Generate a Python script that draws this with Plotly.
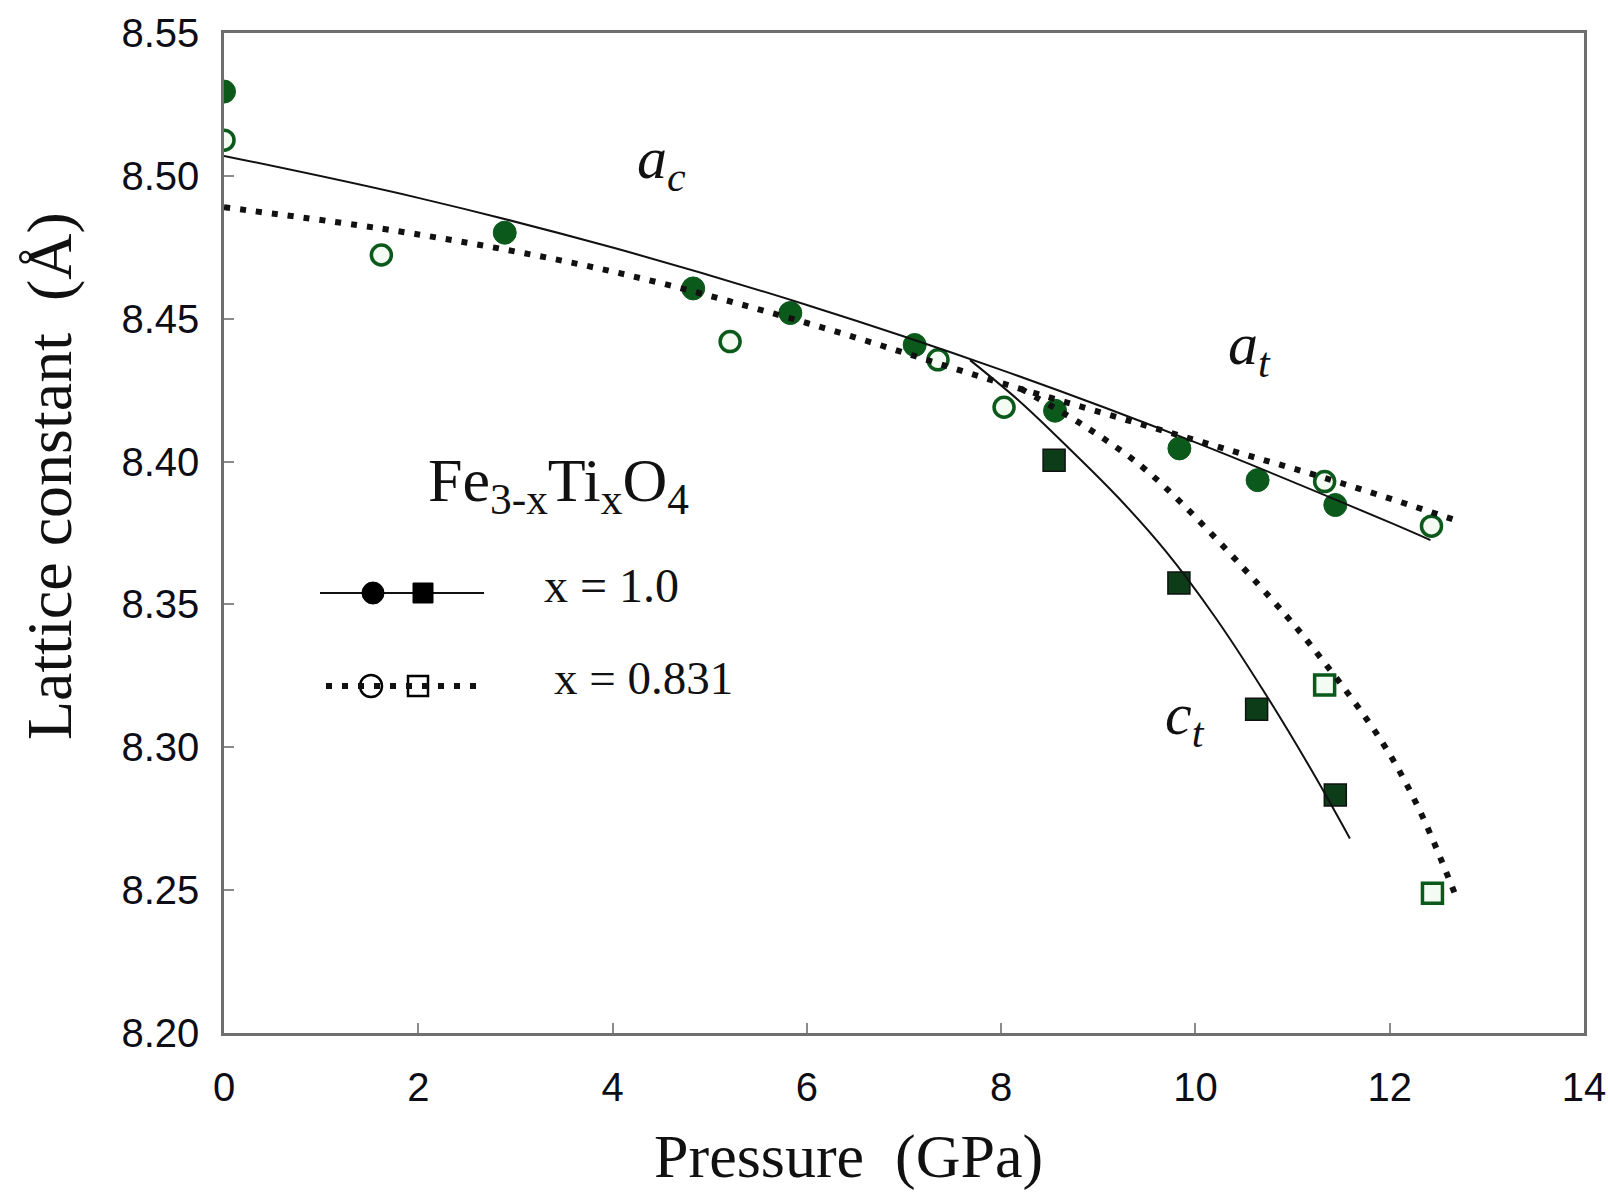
import plotly.graph_objects as go

# ---- data ----
# x = 1.0, cubic/tetragonal a (filled circles)
p_a_x10 = [0, 2.89, 4.83, 5.83, 7.11, 8.555, 9.835, 10.64, 11.44]
lat_a_x10 = [8.5295, 8.4801, 8.4606, 8.452, 8.4408, 8.4178, 8.4046, 8.3935, 8.3848]
# x = 1.0, tetragonal c (filled squares)
p_c_x10 = [8.545, 9.83, 10.63, 11.44]
lat_c_x10 = [8.4005, 8.3575, 8.3133, 8.2833]
# x = 0.831, a (open circles)
p_a_x0831 = [0, 1.62, 5.21, 7.35, 8.03, 11.33, 12.43]
lat_a_x0831 = [8.5125, 8.4723, 8.442, 8.4356, 8.419, 8.393, 8.3774]
# x = 0.831, c (open squares)
p_c_x0831 = [11.33, 12.44]
lat_c_x0831 = [8.3218, 8.2489]

# fitted curves
fit_a_x10_p = [0, 2, 4, 6, 8, 10, 12, 12.42]
fit_a_x10_v = [8.5070, 8.4923, 8.4749, 8.4548, 8.4321, 8.4067, 8.3787, 8.3725]
fit_c_x10_p = [7.68, 8.2, 8.7, 9.2, 9.7, 10.2, 10.7, 11.2, 11.59]
fit_c_x10_v = [8.4355, 8.4208, 8.4046, 8.3876, 8.3684, 8.3457, 8.3198, 8.2917, 8.2681]
fit_a_x0831_p = [0, 2, 4, 6, 8, 10, 11.5, 12.72]
fit_a_x0831_v = [8.4890, 8.4795, 8.4665, 8.4485, 8.4275, 8.4075, 8.3925, 8.3790]
fit_c_x0831_p = [8.2, 8.84, 9.53, 10.78, 11.32, 11.93, 12.3, 12.69]
fit_c_x0831_v = [8.4255, 8.4128, 8.3959, 8.3520, 8.3300, 8.3014, 8.2785, 8.2471]

x_ticks = [0, 2, 4, 6, 8, 10, 12, 14]
y_ticks = [8.20, 8.25, 8.30, 8.35, 8.40, 8.45, 8.50, 8.55]
y_ticklabels = ["8.20", "8.25", "8.30", "8.35", "8.40", "8.45", "8.50", "8.55"]

# ---- styles ----
W, H = 1608, 1194
L, R, T, B = 224, 24, 33, 161
GREEN = "#0b5a1c"
DKGREEN = "#0c3c18"
PALE = "#f3fbf3"
DOT = "6px,10px"
SERIF = "Liberation Serif, Times New Roman, serif"
SANS = "Liberation Sans, Arial, sans-serif"


def px(X):
    return (X - L) / (W - L - R)


def py(Y):
    return (H - B - Y) / (H - T - B)


fig = go.Figure()

# markers first (lines are drawn over them)
fig.add_trace(go.Scatter(x=p_a_x0831, y=lat_a_x0831, mode="markers",
                         marker=dict(symbol="circle", size=20, color=PALE,
                                     line=dict(color=GREEN, width=3.5)),
                         showlegend=False))
fig.add_trace(go.Scatter(x=p_c_x0831, y=lat_c_x0831, mode="markers",
                         marker=dict(symbol="square", size=20, color=PALE,
                                     line=dict(color=GREEN, width=3.5)),
                         showlegend=False))
fig.add_trace(go.Scatter(x=p_a_x10, y=lat_a_x10, mode="markers",
                         marker=dict(symbol="circle", size=23, color=GREEN,
                                     line=dict(color=GREEN, width=1)),
                         showlegend=False))
fig.add_trace(go.Scatter(x=p_c_x10, y=lat_c_x10, mode="markers",
                         marker=dict(symbol="square", size=22, color=DKGREEN,
                                     line=dict(color="#111111", width=1.5)),
                         showlegend=False))

# fitted curves
for xs, ys, dash, wd in [
    (fit_a_x10_p, fit_a_x10_v, "solid", 2),
    (fit_c_x10_p, fit_c_x10_v, "solid", 2),
    (fit_a_x0831_p, fit_a_x0831_v, DOT, 6),
    (fit_c_x0831_p, fit_c_x0831_v, DOT, 6),
]:
    fig.add_trace(go.Scatter(x=xs, y=ys, mode="lines",
                             line=dict(color="#111111", width=wd, dash=dash,
                                       shape="spline", smoothing=1.0),
                             showlegend=False))

annotations = [
    dict(text="<i>a<sub>c</sub></i>", x=px(661), y=py(162), font=dict(size=60, family=SERIF)),
    dict(text="<i>a<sub>t</sub></i>", x=px(1249), y=py(349), font=dict(size=60, family=SERIF)),
    dict(text="<i>c<sub>t</sub></i>", x=px(1185), y=py(718), font=dict(size=60, family=SERIF)),
    dict(text="Fe<sub>3-x</sub>Ti<sub>x</sub>O<sub>4</sub>", x=px(558), y=py(485),
         font=dict(size=62, family=SERIF)),
    dict(text="x = 1.0", x=px(542), y=py(586), xanchor="left", font=dict(size=48, family=SERIF)),
    dict(text="x = 0.831", x=px(552), y=py(678), xanchor="left", font=dict(size=47, family=SERIF)),
    dict(text="Lattice constant  (Å)", x=px(50), y=py(476), textangle=-90,
         font=dict(size=64, family=SERIF)),
    dict(text="Pressure  (GPa)", x=px(848), y=py(1156), font=dict(size=62, family=SERIF)),
]
for a in annotations:
    a.setdefault("xanchor", "center")
    a.update(xref="paper", yref="paper", yanchor="middle", showarrow=False)
    a["font"]["color"] = "#111111"

shapes = [
    # legend: solid line with filled circle and square
    dict(type="line", xref="paper", yref="paper", x0=px(320), x1=px(484), y0=py(593), y1=py(593),
         line=dict(color="#111111", width=2)),
    dict(type="circle", xref="paper", yref="paper", xsizemode="pixel", ysizemode="pixel",
         xanchor=px(373), yanchor=py(593), x0=-11, x1=11, y0=-11, y1=11,
         fillcolor="#000000", line=dict(color="#000000", width=1)),
    dict(type="rect", xref="paper", yref="paper", xsizemode="pixel", ysizemode="pixel",
         xanchor=px(423), yanchor=py(593), x0=-10, x1=10, y0=-10, y1=10,
         fillcolor="#000000", line=dict(color="#000000", width=1)),
    # legend: dotted line with open circle and square
    dict(type="circle", xref="paper", yref="paper", xsizemode="pixel", ysizemode="pixel",
         xanchor=px(371), yanchor=py(686), x0=-11, x1=11, y0=-11, y1=11,
         fillcolor="#ffffff", line=dict(color="#000000", width=2.5)),
    dict(type="rect", xref="paper", yref="paper", xsizemode="pixel", ysizemode="pixel",
         xanchor=px(418), yanchor=py(686), x0=-10, x1=10, y0=-10, y1=10,
         fillcolor="#ffffff", line=dict(color="#000000", width=2.5)),
    dict(type="line", xref="paper", yref="paper", x0=px(326), x1=px(477), y0=py(686), y1=py(686),
         line=dict(color="#111111", width=6, dash=DOT)),
]

axis_common = dict(showgrid=False, zeroline=False, showline=True, linecolor="#6f6f6f",
                   linewidth=2.5, mirror=True, ticks="inside", ticklen=10, tickwidth=2,
                   tickcolor="#8a8a8a", tickfont=dict(size=40, family=SANS, color="#0d0d15"))

fig.update_layout(
    width=W, height=H,
    margin=dict(l=L, r=R, t=T, b=B, autoexpand=False),
    paper_bgcolor="white", plot_bgcolor="white",
    xaxis=dict(range=[0, 14], tickvals=x_ticks, ticklabelstandoff=17, **axis_common),
    yaxis=dict(range=[8.20, 8.55], tickvals=y_ticks, ticktext=y_ticklabels,
               ticklabelstandoff=14, **axis_common),
    annotations=annotations,
    shapes=shapes,
    showlegend=False,
)

fig.write_html("out.html", config={"displayModeBar": False},
               post_script="document.body.style.margin='0';document.body.style.overflow='hidden';")
